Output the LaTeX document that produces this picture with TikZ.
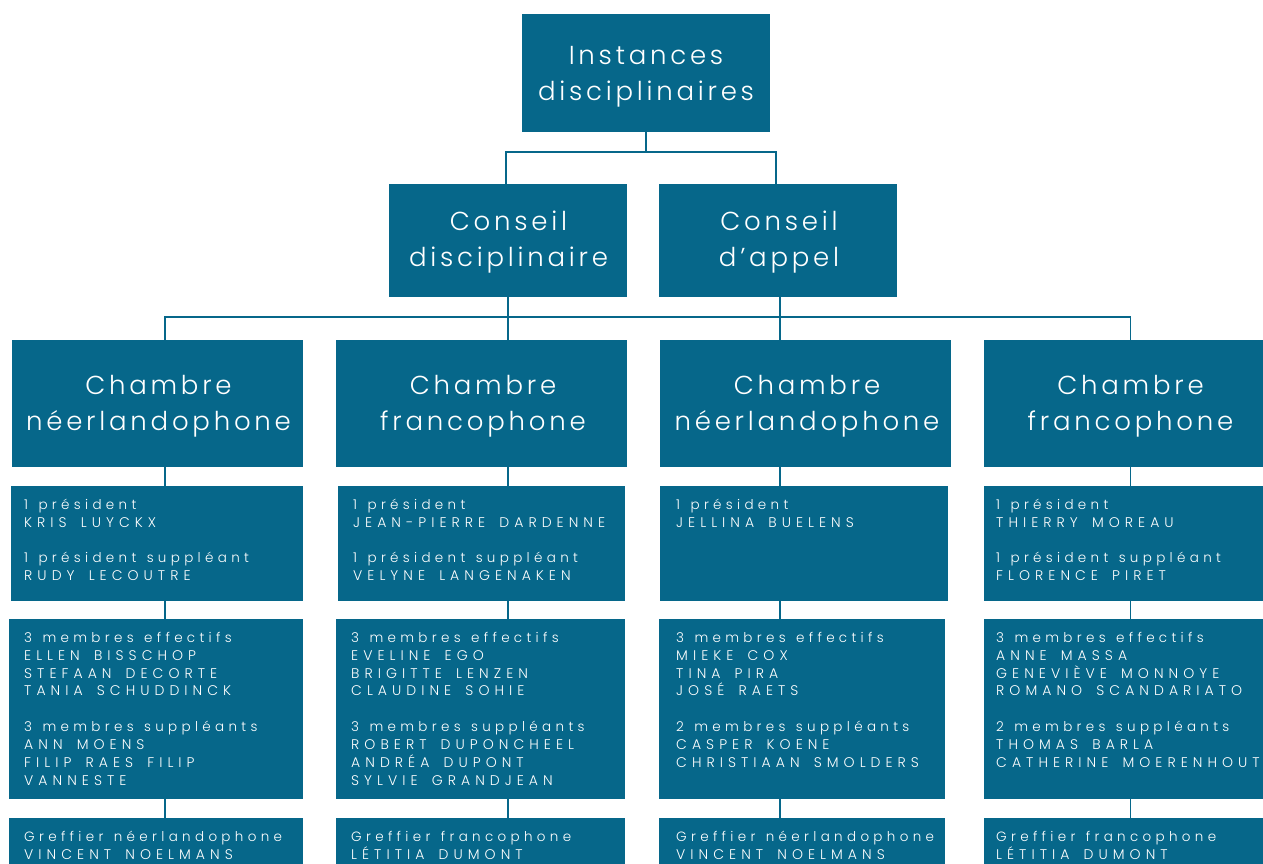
\documentclass[tikz,border=0pt]{standalone}
\usepackage{fontspec}
\setmainfont{Poppins}
\newfontfamily\hdfont{Poppins Light}[LetterSpace=14.5,Ligatures=NoCommon]
\newfontfamily\dtfont{Poppins Light}[LetterSpace=32,WordSpace=1.3,Ligatures=NoCommon]
\newfontfamily\capfont{Poppins Light}[LetterSpace=36,WordSpace=1.6,Ligatures=NoCommon]
\definecolor{boxblue}{RGB}{6,103,138}
\newcommand\hstrut{\rule{0pt}{24pt}}
\newcommand\dstrut{\rule{0pt}{14pt}}
\newcommand\pname[1]{{\capfont\fontsize{14pt}{17.9pt}\selectfont #1}}
\begin{document}
\begin{tikzpicture}[x=1pt,y=-1pt,
  box/.style={fill=boxblue, draw=none, inner sep=0pt, outer sep=0pt, anchor=north west},
  conn/.style={draw=boxblue, line width=1.6pt},
  thinconn/.style={draw=boxblue, line width=1.3pt},
  hd/.style={text=white, inner sep=0pt, anchor=north, align=center, font=\hdfont\fontsize{26pt}{36pt}\selectfont},
  dt/.style={text=white, inner sep=0pt, anchor=north west, align=left, font=\dtfont\fontsize{13.5pt}{17.9pt}\selectfont}]
\useasboundingbox (0,0) rectangle (1263,864);
\clip (0,0) rectangle (1263,864);

% spine coordinates
\coordinate (s1) at (165,0);
\coordinate (s2) at (508,0);
\coordinate (s3) at (780,0);
\coordinate (s4) at (1130.5,0);
\coordinate (ta) at (506,0);
\coordinate (tb) at (776,0);
\coordinate (bar) at (0,317);
\coordinate (tbar) at (0,152);

% boxes
\node[box, minimum width=248pt, minimum height=118pt] (I) at (522,14) {};
\node[box, minimum width=238pt, minimum height=113pt] (CD) at (389,184) {};
\node[box, minimum width=238pt, minimum height=113pt] (CA) at (659,184) {};

\node[box, minimum width=291pt, minimum height=127pt] (C1) at (12,340) {};
\node[box, minimum width=291pt, minimum height=127pt] (C2) at (336,340) {};
\node[box, minimum width=291pt, minimum height=127pt] (C3) at (660,340) {};
\node[box, minimum width=300pt, minimum height=127pt] (C4) at (984,340) {};

\node[box, minimum width=292pt, minimum height=115pt] (P1) at (11,486) {};
\node[box, minimum width=287pt, minimum height=115pt] (P2) at (338,486) {};
\node[box, minimum width=288pt, minimum height=115pt] (P3) at (660,486) {};
\node[box, minimum width=300pt, minimum height=115pt] (P4) at (984,486) {};

\node[box, minimum width=294pt, minimum height=180pt] (M1) at (9,619) {};
\node[box, minimum width=289pt, minimum height=180pt] (M2) at (336,619) {};
\node[box, minimum width=286pt, minimum height=180pt] (M3) at (659,619) {};
\node[box, minimum width=300pt, minimum height=180pt] (M4) at (984,619) {};

\node[box, minimum width=294pt, minimum height=80pt] (G1) at (9,818) {};
\node[box, minimum width=289pt, minimum height=80pt] (G2) at (336,818) {};
\node[box, minimum width=286pt, minimum height=80pt] (G3) at (659,818) {};
\node[box, minimum width=300pt, minimum height=80pt] (G4) at (984,818) {};

% connectors
\draw[thinconn] (I.south) -- (I.south |- tbar);
\draw[thinconn] (CD.north -| ta) -- (ta |- tbar) -- (tb |- tbar) -- (CA.north -| tb);
\draw[conn] (CD.south -| s2) -- (C2.north -| s2);
\draw[conn] (CA.south -| s3) -- (C3.north -| s3);
\draw[conn] (C1.north -| s1) -- (s1 |- bar) -- (s4 |- bar) -- (C4.north -| s4);
\foreach \i in {1,2,3,4}{
  \draw[conn] (C\i.south -| s\i) -- (P\i.north -| s\i);
  \draw[conn] (P\i.south -| s\i) -- (M\i.north -| s\i);
  \draw[conn] (M\i.south -| s\i) -- (G\i.north -| s\i);
}

% header texts
\node[hd] (tI) at (646,40) {\hstrut Instances\\disciplinaires};
\node[hd] (tCD) at (508.5,206) {\hstrut Conseil\\disciplinaire};
\node[hd] (tCA) at (779,206) {\hstrut Conseil\\d’appel};
\node[hd] (tC1) at (158.5,370) {\hstrut Chambre\\néerlandophone};
\node[hd] (tC2) at (483,370) {\hstrut Chambre\\francophone};
\node[hd] (tC3) at (807,370) {\hstrut Chambre\\néerlandophone};
\node[hd] (tC4) at (1130.5,370) {\hstrut Chambre\\francophone};

% detail texts
\node[dt] (tP1) at (24,495) {\dstrut 1 président\\\pname{KRIS LUYCKX}\\[17.9pt]1 président suppléant\\\pname{RUDY LECOUTRE}};
\node[dt] (tP2) at (353,495) {\dstrut 1 président\\\pname{JEAN-PIERRE DARDENNE}\\[17.9pt]1 président suppléant\\\pname{VELYNE LANGENAKEN}};
\node[dt] (tP3) at (676,495) {\dstrut 1 président\\\pname{JELLINA BUELENS}};
\node[dt] (tP4) at (996,495) {\dstrut 1 président\\\pname{THIERRY MOREAU}\\[17.9pt]1 président suppléant\\\pname{FLORENCE PIRET}};

\node[dt] (tM1) at (24,628) {\dstrut 3 membres effectifs\\\pname{ELLEN BISSCHOP}\\\pname{STEFAAN DECORTE}\\\pname{TANIA SCHUDDINCK}\\[17.9pt]3 membres suppléants\\\pname{ANN MOENS}\\\pname{FILIP RAES FILIP}\\\pname{VANNESTE}};
\node[dt] (tM2) at (351,628) {\dstrut 3 membres effectifs\\\pname{EVELINE EGO}\\\pname{BRIGITTE LENZEN}\\\pname{CLAUDINE SOHIE}\\[17.9pt]3 membres suppléants\\\pname{ROBERT DUPONCHEEL}\\\pname{ANDRÉA DUPONT}\\\pname{SYLVIE GRANDJEAN}};
\node[dt] (tM3) at (676,628) {\dstrut 3 membres effectifs\\\pname{MIEKE COX}\\\pname{TINA PIRA}\\\pname{JOSÉ RAETS}\\[17.9pt]2 membres suppléants\\\pname{CASPER KOENE}\\\pname{CHRISTIAAN SMOLDERS}};
\node[dt] (tM4) at (996,628) {\dstrut 3 membres effectifs\\\pname{ANNE MASSA}\\\pname{GENEVIÈVE MONNOYE}\\\pname{ROMANO SCANDARIATO}\\[17.9pt]2 membres suppléants\\\pname{THOMAS BARLA}\\\pname{CATHERINE MOERENHOUT}};

\node[dt] (tG1) at (24,827.5) {\dstrut Greffier néerlandophone\\\pname{VINCENT NOELMANS}};
\node[dt] (tG2) at (351,827.5) {\dstrut Greffier francophone\\\pname{LÉTITIA DUMONT}};
\node[dt] (tG3) at (676,827.5) {\dstrut Greffier néerlandophone\\\pname{VINCENT NOELMANS}};
\node[dt] (tG4) at (996,827.5) {\dstrut Greffier francophone\\\pname{LÉTITIA DUMONT}};
\end{tikzpicture}
\end{document}
